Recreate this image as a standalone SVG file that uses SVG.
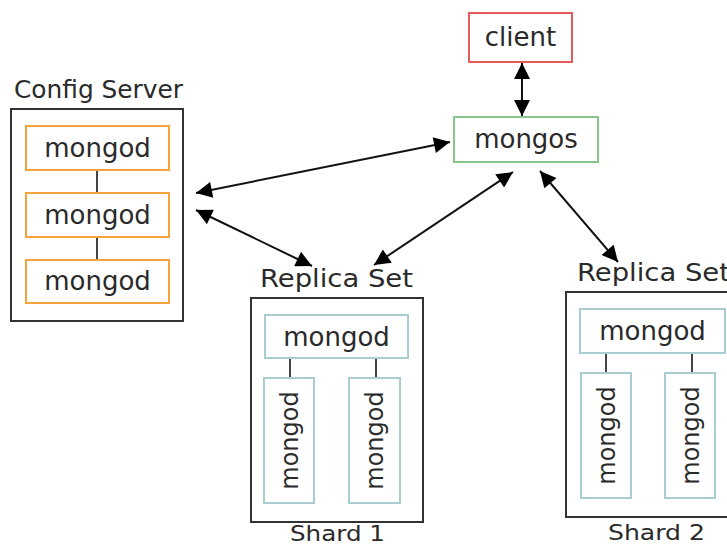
<svg xmlns="http://www.w3.org/2000/svg" width="727" height="546" viewBox="0 0 727 546">
  <style>
    text { font-family: "DejaVu Sans", "Liberation Sans", sans-serif; fill: #2a2a2a; }
    .lbl { font-size: 25px; }
    .foot { font-size: 21px; }
    .nd { font-size: 26px; text-anchor: middle; }
    .vt { font-size: 24px; text-anchor: middle; }
    .frame { fill: none; stroke: #333; stroke-width: 2; }
    .cfg { fill: #fff; stroke: #f4a43a; stroke-width: 2; }
    .rs { fill: #fff; stroke: #a9cdd3; stroke-width: 2; }
    .link { stroke: #444; stroke-width: 2; }
    .arrow { stroke: #111; stroke-width: 2; fill: none; marker-start: url(#ah); marker-end: url(#ah); }
  </style>
  <defs>
    <marker id="ah" viewBox="0 0 10 10" refX="10" refY="5" markerWidth="9" markerHeight="8" markerUnits="strokeWidth" orient="auto-start-reverse">
      <path d="M0,0 L10,5 L0,10 z" fill="#000"/>
    </marker>
  </defs>
  <rect width="727" height="546" fill="#fff"/>

  <!-- connectors -->
  <g id="connectors">
    <line class="arrow" x1="522" y1="63" x2="522" y2="116"/>
    <line class="arrow" x1="196" y1="193" x2="450" y2="142"/>
    <line class="arrow" x1="196" y1="210" x2="312" y2="266"/>
    <line class="arrow" x1="513" y1="172" x2="374" y2="265"/>
    <line class="arrow" x1="540" y1="171" x2="618" y2="262"/>
  </g>

  <g id="client">
    <rect x="469" y="13" width="103" height="49" fill="#fff" stroke="#e85a5a" stroke-width="2"/>
    <text class="nd" x="520.5" y="46">client</text>
  </g>

  <g id="mongos">
    <rect x="454" y="117" width="144" height="45" fill="#fff" stroke="#86c68a" stroke-width="2"/>
    <text class="nd" x="526" y="148">mongos</text>
  </g>

  <g id="config-server">
    <text class="lbl" x="14" y="98" textLength="169" lengthAdjust="spacingAndGlyphs">Config Server</text>
    <rect class="frame" x="11" y="109" width="172" height="212"/>
    <line class="link" x1="97" y1="170" x2="97" y2="193"/>
    <line class="link" x1="97" y1="237" x2="97" y2="260"/>
    <rect class="cfg" x="26" y="126" width="143" height="44"/>
    <text class="nd" x="97.5" y="157">mongod</text>
    <rect class="cfg" x="26" y="193" width="143" height="44"/>
    <text class="nd" x="97.5" y="224">mongod</text>
    <rect class="cfg" x="26" y="260" width="143" height="43"/>
    <text class="nd" x="97.5" y="290">mongod</text>
  </g>

  <g id="shard-1">
    <text class="lbl" x="260" y="287" textLength="153" lengthAdjust="spacingAndGlyphs">Replica Set</text>
    <rect class="frame" x="251" y="298" width="172" height="224"/>
    <line class="link" x1="290" y1="358" x2="290" y2="378"/>
    <line class="link" x1="376" y1="358" x2="376" y2="378"/>
    <rect class="rs" x="265" y="315" width="143" height="43"/>
    <text class="nd" x="336.5" y="346">mongod</text>
    <rect class="rs" x="264" y="378" width="50" height="125"/>
    <text class="vt" transform="translate(297.5 440.5) rotate(-90)">mongod</text>
    <rect class="rs" x="349" y="378" width="51" height="125"/>
    <text class="vt" transform="translate(383 440.5) rotate(-90)">mongod</text>
    <text class="foot" x="290" y="541" textLength="95" lengthAdjust="spacingAndGlyphs">Shard 1</text>
  </g>

  <g id="shard-2">
    <text class="lbl" x="577" y="281" textLength="153" lengthAdjust="spacingAndGlyphs">Replica Set</text>
    <rect class="frame" x="566" y="292" width="172" height="225"/>
    <line class="link" x1="606" y1="353" x2="606" y2="373"/>
    <line class="link" x1="692" y1="353" x2="692" y2="373"/>
    <rect class="rs" x="580" y="309" width="145" height="44"/>
    <text class="nd" x="652.5" y="340">mongod</text>
    <rect class="rs" x="581" y="373" width="50" height="125"/>
    <text class="vt" transform="translate(614.5 435.5) rotate(-90)">mongod</text>
    <rect class="rs" x="665" y="373" width="50" height="125"/>
    <text class="vt" transform="translate(698.5 435.5) rotate(-90)">mongod</text>
    <text class="foot" x="608" y="540" textLength="97" lengthAdjust="spacingAndGlyphs">Shard 2</text>
  </g>
</svg>
